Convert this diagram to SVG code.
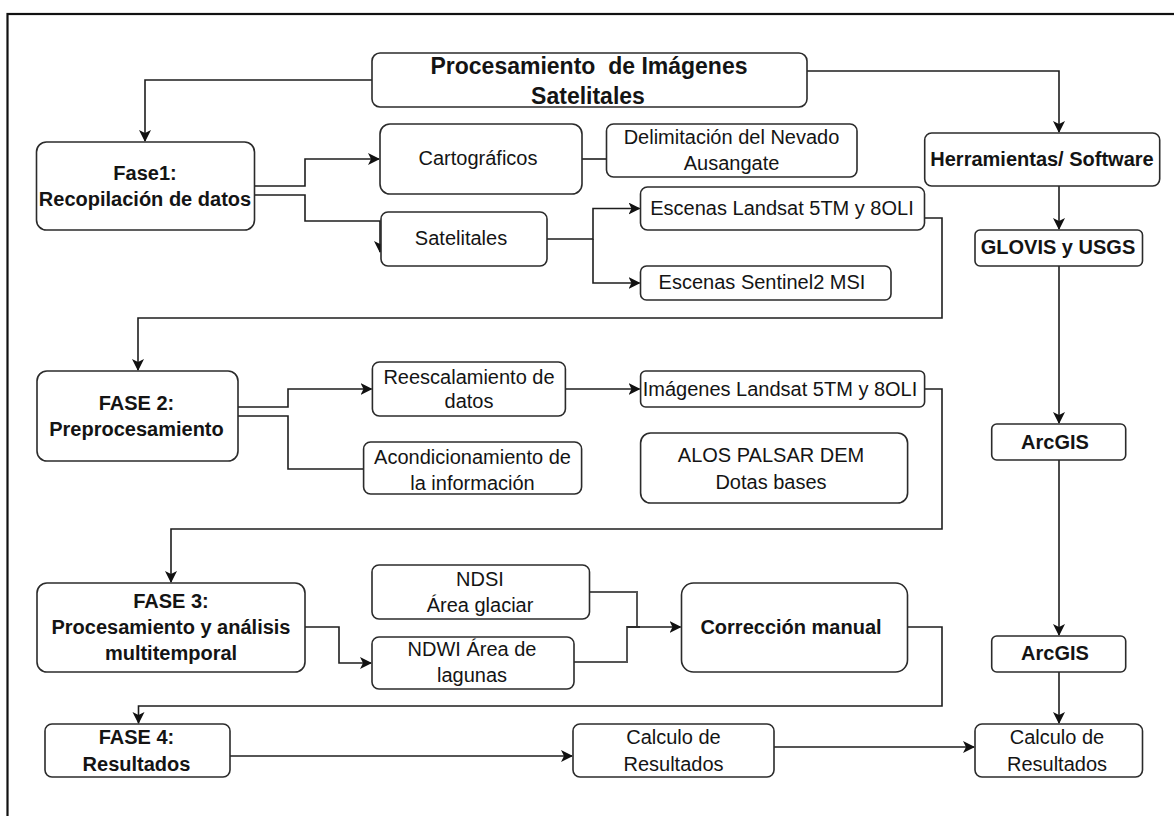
<svg xmlns="http://www.w3.org/2000/svg" width="1174" height="816" viewBox="0 0 1174 816">
<style>
.bx{fill:#fff;stroke:#2b2b2b;stroke-width:1.6}
.t{font-family:"Liberation Sans",Arial,sans-serif;font-size:20px;fill:#141414;text-anchor:middle}
.b{font-weight:bold}
.ti{font-size:23px}
.ln{fill:none;stroke:#1e1e1e;stroke-width:1.6}
.lg{fill:none;stroke:#555;stroke-width:2}
</style>
<defs>
<marker id="ar" markerUnits="userSpaceOnUse" markerWidth="14" markerHeight="14" refX="11" refY="6" orient="auto">
<path d="M0,0 L12,6 L0,12 L3,6 z" fill="#111"/>
</marker>
</defs>
<rect x="0" y="0" width="1174" height="816" fill="#fff"/>
<rect x="7.5" y="14" width="1200" height="900" fill="none" stroke="#111" stroke-width="2.2"/>

<g id="connectors">
<path class="ln" d="M372,80 H145 V141" marker-end="url(#ar)"/>
<path class="ln" d="M807,71 H1059 V132" marker-end="url(#ar)"/>
<path class="ln" d="M254.5,186 H305 V159 H379" marker-end="url(#ar)"/>
<path class="ln" d="M254.5,195 H305 V221 H380 V252" marker-end="url(#ar)"/>
<path class="ln" d="M582,159 H606.5"/>
<path class="ln" d="M547,239 H593 V208.5 H639.5" marker-end="url(#ar)"/>
<path class="ln" d="M593,239 V283 H639.5" marker-end="url(#ar)"/>
<path class="ln" d="M925,218 H942 V318 H138 V370" marker-end="url(#ar)"/>
<path class="ln" d="M1059,186 V229" marker-end="url(#ar)"/>
<path class="ln" d="M1059,266 V423" marker-end="url(#ar)"/>
<path class="ln" d="M238,407 H288 V389 H371.5" marker-end="url(#ar)"/>
<path class="ln" d="M238,416 H288 V469 H364"/>
<path class="ln" d="M566,389 H639.5" marker-end="url(#ar)"/>
<path class="ln" d="M925,389 H942 V529 H171 V582" marker-end="url(#ar)"/>
<path class="ln" d="M305,627 H339 V663 H371" marker-end="url(#ar)"/>
<path class="lg" d="M590,592 H637 V627"/>
<path class="lg" d="M574,662 H627 V627 H640"/>
<path class="ln" d="M627,627 H680.5" marker-end="url(#ar)"/>
<path class="ln" d="M908,627 H942 V706 H138.5 V723" marker-end="url(#ar)"/>
<path class="ln" d="M230,756 H572" marker-end="url(#ar)"/>
<path class="lg" d="M774,747 H974" marker-end="url(#ar)"/>
<path class="ln" d="M1059,460 V635" marker-end="url(#ar)"/>
<path class="ln" d="M1059,672 V723" marker-end="url(#ar)"/>
</g>

<g id="title"><rect class="bx" x="372" y="53" width="435" height="54" rx="8"/>
<text class="t b ti" x="589" y="74">Procesamiento&#160; de Imágenes</text>
<text class="t b ti" x="588" y="104">Satelitales</text></g>

<g id="fase1"><rect class="bx" x="36.5" y="142" width="218" height="88" rx="10"/>
<text class="t b" x="145" y="180">Fase1:</text>
<text class="t b" x="145" y="206">Recopilación de datos</text></g>

<g id="cartograficos"><rect class="bx" x="380" y="124" width="202" height="70" rx="10"/>
<text class="t" x="478" y="165">Cartográficos</text></g>

<g id="delimitacion"><rect class="bx" x="606.5" y="124" width="250.5" height="53" rx="7"/>
<text class="t" x="731.5" y="144">Delimitación del Nevado</text>
<text class="t" x="731.5" y="170">Ausangate</text></g>

<g id="satelitales"><rect class="bx" x="381" y="212" width="166" height="54" rx="7"/>
<text class="t" x="461" y="245">Satelitales</text></g>

<g id="landsat"><rect class="bx" x="640.5" y="187" width="284" height="43" rx="7"/>
<text class="t" x="782" y="215">Escenas Landsat 5TM y 8OLI</text></g>

<g id="sentinel"><rect class="bx" x="640.5" y="266" width="250.5" height="34" rx="6"/>
<text class="t" x="762" y="288.5">Escenas Sentinel2 MSI</text></g>

<g id="herramientas"><rect class="bx" x="924.7" y="133" width="235" height="53" rx="7"/>
<text class="t b" x="1042" y="165.5">Herramientas/ Software</text></g>

<g id="glovis"><rect class="bx" x="975" y="230" width="167.5" height="36" rx="5"/>
<text class="t b" x="1058" y="254">GLOVIS y USGS</text></g>

<g id="fase2"><rect class="bx" x="37" y="371" width="201" height="90" rx="10"/>
<text class="t b" x="136.5" y="410">FASE 2:</text>
<text class="t b" x="136.5" y="436">Preprocesamiento</text></g>

<g id="reescalamiento"><rect class="bx" x="372.4" y="362" width="193" height="54" rx="7"/>
<text class="t" x="469" y="384">Reescalamiento de</text>
<text class="t" x="469" y="408">datos</text></g>

<g id="acondicionamiento"><rect class="bx" x="363.6" y="442" width="218" height="52" rx="7"/>
<text class="t" x="472.5" y="464">Acondicionamiento de</text>
<text class="t" x="472.5" y="490">la información</text></g>

<g id="imagenes"><rect class="bx" x="640.6" y="371" width="284" height="36" rx="5"/>
<text class="t" x="780" y="396">Imágenes Landsat 5TM y 8OLI</text></g>

<g id="alos"><rect class="bx" x="640.6" y="433" width="267" height="70" rx="10"/>
<text class="t" x="771" y="462">ALOS PALSAR DEM</text>
<text class="t" x="771" y="489">Dotas bases</text></g>

<g id="arcgis1"><rect class="bx" x="991.7" y="424" width="134" height="36" rx="5"/>
<text class="t b" x="1055" y="448.5">ArcGIS</text></g>

<g id="fase3"><rect class="bx" x="37" y="583" width="268" height="89" rx="10"/>
<text class="t b" x="171" y="608">FASE 3:</text>
<text class="t b" x="171" y="634">Procesamiento y análisis</text>
<text class="t b" x="171" y="660">multitemporal</text></g>

<g id="ndsi"><rect class="bx" x="372" y="565" width="217.5" height="54" rx="7"/>
<text class="t" x="480" y="586">NDSI</text>
<text class="t" x="480" y="612">Área glaciar</text></g>

<g id="ndwi"><rect class="bx" x="372" y="637" width="202" height="52" rx="7"/>
<text class="t" x="472" y="656">NDWI Área de</text>
<text class="t" x="472" y="682">lagunas</text></g>

<g id="correccion"><rect class="bx" x="681.5" y="583" width="226" height="89" rx="12"/>
<text class="t b" x="791" y="634" font-size="19">Corrección manual</text></g>

<g id="arcgis2"><rect class="bx" x="991.7" y="636" width="134" height="36" rx="5"/>
<text class="t b" x="1055" y="659.5">ArcGIS</text></g>

<g id="fase4"><rect class="bx" x="45" y="724" width="185" height="53" rx="7"/>
<text class="t b" x="136.5" y="744">FASE 4:</text>
<text class="t b" x="136.5" y="770.5">Resultados</text></g>

<g id="calculo1"><rect class="bx" x="573" y="724" width="201" height="53" rx="7"/>
<text class="t" x="673.5" y="744">Calculo de</text>
<text class="t" x="673.5" y="770.5">Resultados</text></g>

<g id="calculo2"><rect class="bx" x="975" y="724" width="167.5" height="53" rx="7"/>
<text class="t" x="1057" y="744">Calculo de</text>
<text class="t" x="1057" y="770.5">Resultados</text></g>
</svg>
